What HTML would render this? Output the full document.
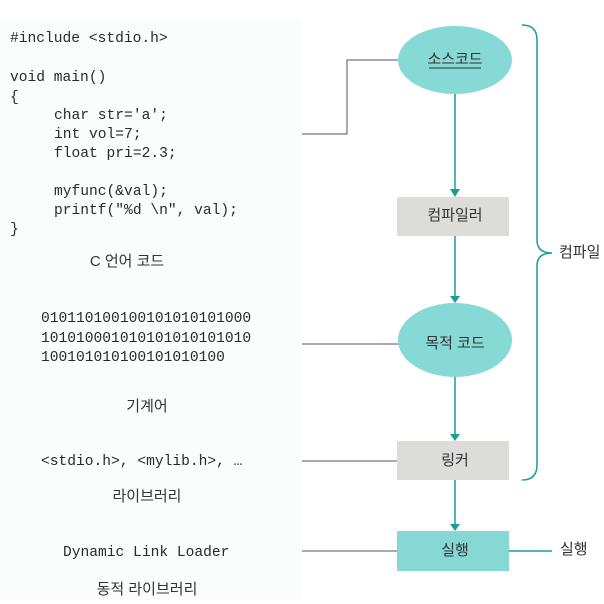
<!DOCTYPE html>
<html><head><meta charset="utf-8"><style>
html,body{margin:0;padding:0;background:#fff;}
svg{display:block;}
.mono{font-family:"Liberation Mono","Noto Sans CJK KR",monospace;font-size:14.6px;fill:#2a2a2a;}
.kr{font-family:"Liberation Sans","Noto Sans CJK KR",sans-serif;font-size:15px;fill:#333;}
</style></head><body>
<svg width="604" height="604" viewBox="0 0 604 604" xmlns="http://www.w3.org/2000/svg">
<rect width="604" height="604" fill="#fff"/>
<rect x="0" y="20" width="302" height="580" fill="#fbfdfd"/>
<g class="mono" dominant-baseline="middle">
<text x="10" y="38">#include &lt;stdio.h&gt;</text>
<text x="10" y="77">void main()</text>
<text x="10" y="97">{</text>
<text x="54" y="115">char str='a';</text>
<text x="54" y="134">int vol=7;</text>
<text x="54" y="153">float pri=2.3;</text>
<text x="54" y="191">myfunc(&amp;val);</text>
<text x="54" y="210">printf("%d \n", val);</text>
<text x="10" y="229">}</text>
<text x="41" y="318">010110100100101010101000</text>
<text x="41" y="338">101010001010101010101010</text>
<text x="41" y="357">100101010100101010100</text>
<text x="41" y="461">&lt;stdio.h&gt;, &lt;mylib.h&gt;, …</text>
<text x="63" y="552">Dynamic Link Loader</text>
</g>
<g class="kr" text-anchor="middle" dominant-baseline="middle">
<text x="127" y="262">C 언어 코드</text>
<text x="147" y="407">기계어</text>
<text x="147" y="497">라이브러리</text>
<text x="147" y="590">동적 라이브러리</text>
</g>
<g stroke="#555" stroke-width="1" fill="none">
<polyline points="302,134 347,134 347,60 398,60"/>
<line x1="302" y1="344" x2="399" y2="344"/>
<line x1="302" y1="461" x2="397" y2="461"/>
<line x1="302" y1="551" x2="397" y2="551"/>
</g>
<g stroke="#1a9e98" stroke-width="1.5" fill="none">
<line x1="455" y1="94" x2="455" y2="190"/>
<line x1="455" y1="236" x2="455" y2="297"/>
<line x1="455" y1="377" x2="455" y2="434"/>
<line x1="455" y1="480" x2="455" y2="524"/>
<line x1="509" y1="551" x2="552" y2="551"/>
<path d="M522,25 Q537,25 537,40 L537,240 Q537,253 552,253 Q537,253 537,266 L537,465 Q537,480 522,480" />
</g>
<g fill="#1a9e98">
<polygon points="450,189 460,189 455,197"/>
<polygon points="450,296 460,296 455,303"/>
<polygon points="450,434 460,434 455,441"/>
<polygon points="450,524 460,524 455,531"/>
</g>
<ellipse cx="455" cy="60" rx="57" ry="34" fill="#86d9d5"/>
<rect x="397" y="197" width="112" height="39" fill="#dcdcd8"/>
<ellipse cx="455" cy="340" rx="57" ry="37" fill="#86d9d5"/>
<rect x="397" y="441" width="112" height="39" fill="#dcdcd8"/>
<rect x="397" y="531" width="112" height="40" fill="#86d8d5"/>
<g class="kr" text-anchor="middle" dominant-baseline="middle">
<text x="455" y="60">소스코드</text>
<text x="455" y="216">컴파일러</text>
<text x="455" y="344">목적 코드</text>
<text x="455" y="461">링커</text>
<text x="455" y="551">실행</text>
</g>
<line x1="429" y1="68" x2="481" y2="68" stroke="#333" stroke-width="1"/>
<g class="kr" dominant-baseline="middle">
<text x="559" y="253">컴파일</text>
<text x="560" y="550">실행</text>
</g>
</svg>
</body></html>
